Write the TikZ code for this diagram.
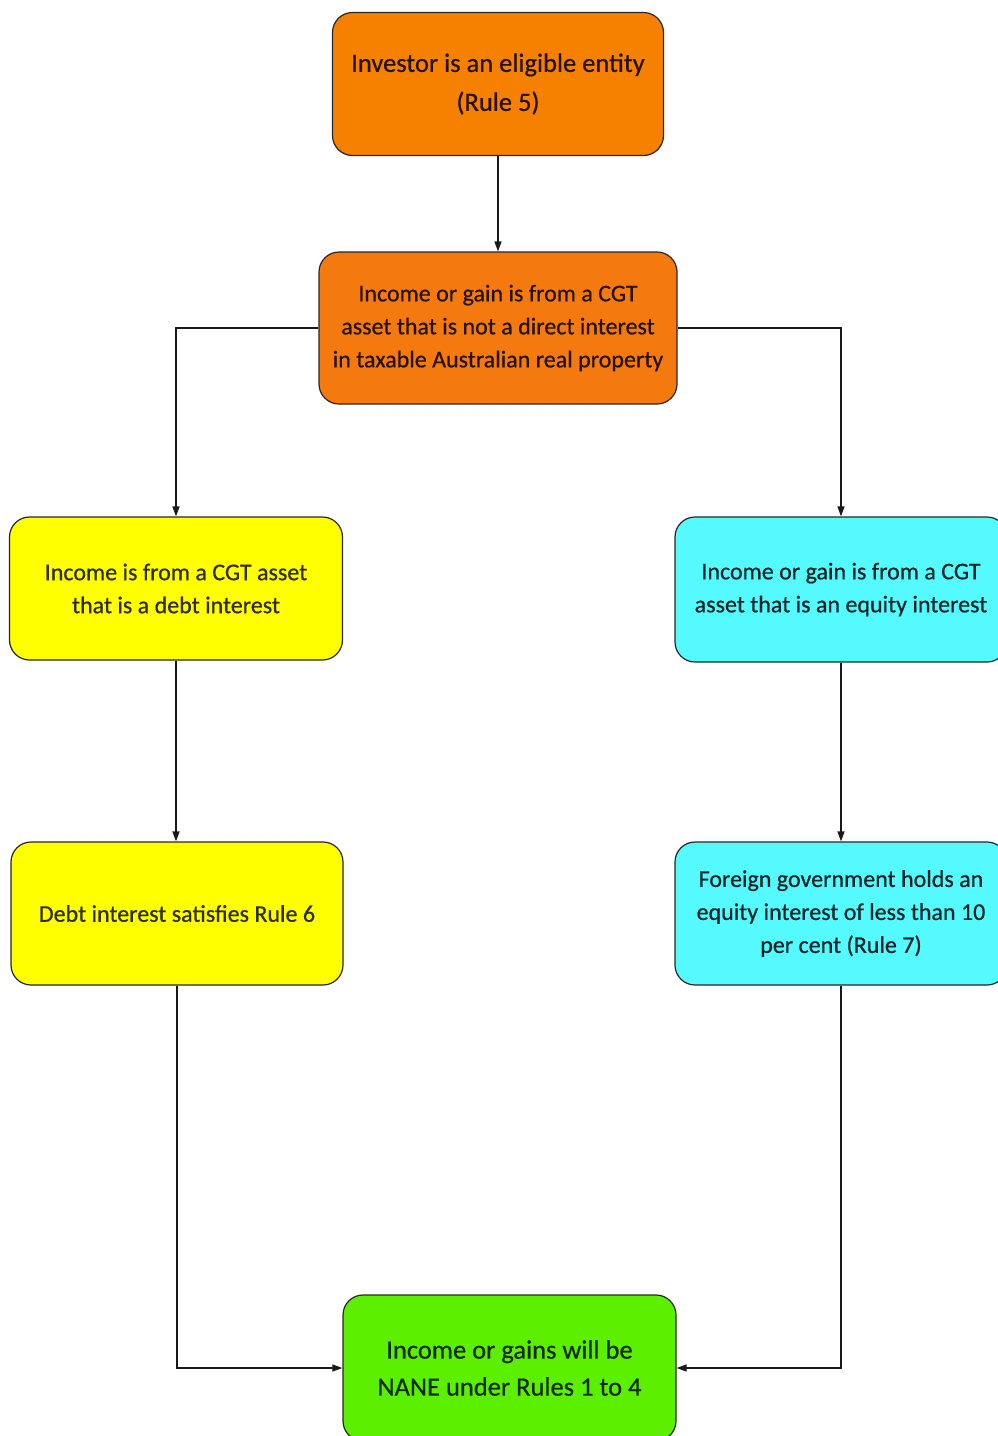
\documentclass[tikz,border=0pt]{standalone}
\usepackage{fontspec}
\setmainfont[FakeBold=0.6]{Carlito}
\usetikzlibrary{arrows.meta}
\definecolor{orangeF}{HTML}{F68000}
\definecolor{orangeG}{HTML}{F47A10}
\definecolor{yellowF}{HTML}{FFFF00}
\definecolor{cyanF}{HTML}{55FAFF}
\definecolor{greenF}{HTML}{5CF000}
\tikzset{
  box/.style={draw=black!85, line width=1.2pt, rounded corners=20pt, align=center, inner sep=4pt},
  obox/.style={box, fill=orangeF, text=orangeF!15!black},
  ybox/.style={box, fill=yellowF, text=yellowF!18!black},
  cbox/.style={box, fill=cyanF, text=cyanF!15!black},
  gbox/.style={box, fill=greenF, text=greenF!18!black},
  conn/.style={line width=1.3pt, draw=black!90, -{Triangle[length=10pt,width=7pt]}},
  fs/.style={font=\fontsize{24}{33}\selectfont},
  fl/.style={font=\fontsize{26.5}{39}\selectfont}
}
\begin{document}
\begin{tikzpicture}[x=1pt,y=-1pt]
\useasboundingbox (0,0) rectangle (998,1436);
\clip (0,0) rectangle (998,1436);
\node[obox, fl, minimum width=331pt, minimum height=143pt] (b1) at (498,84) {Investor is an eligible entity\\(Rule 5)};
\node[obox, fs, minimum width=358pt, minimum height=152pt, fill=orangeG] (b2) at (498,328) {Income or gain is from a CGT\\asset that is not a direct interest\\in taxable Australian real property};
\node[ybox, fs, minimum width=333pt, minimum height=143pt] (b3) at (176,588.5) {Income is from a CGT asset\\that is a debt interest};
\node[cbox, fs, minimum width=332pt, minimum height=145pt] (b4) at (841,589.5) {Income or gain is from a CGT\\asset that is an equity interest};
\node[ybox, fs, minimum width=332pt, minimum height=143pt] (b5) at (177,913.5) {Debt interest satisfies Rule 6};
\node[cbox, fs, minimum width=332pt, minimum height=143pt] (b6) at (841,913.5) {Foreign government holds an\\equity interest of less than 10\\per cent (Rule 7)};
\node[gbox, minimum width=333pt, minimum height=146pt, font=\fontsize{26.5}{37}\selectfont] (b7) at (509.5,1368) {Income or gains will be\\NANE under Rules 1 to 4};
\draw[conn] (b1.south) -- (b2.north);
\draw[conn] (b2.west) -| (b3.north);
\draw[conn] (b2.east) -| (b4.north);
\draw[conn] (b3.south) -- (b3.south |- b5.north);
\draw[conn] (b4.south) -- (b6.north);
\draw[conn] (b5.south) |- (b7.west);
\draw[conn] (b6.south) |- (b7.east);
\end{tikzpicture}
\end{document}
